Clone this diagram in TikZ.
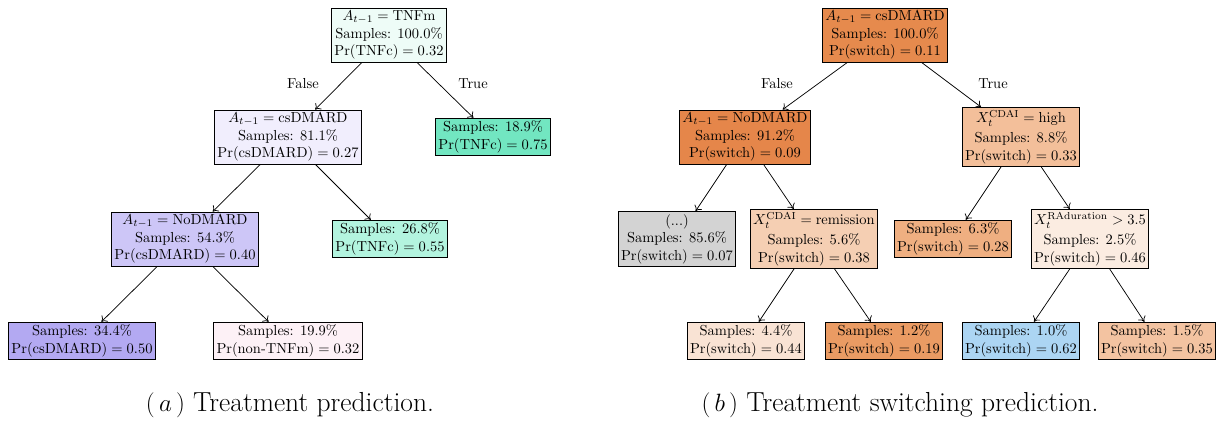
\documentclass[tikz,border=0pt]{standalone}
\usepackage{amsmath}
\usetikzlibrary{arrows.meta}

\definecolor{aroot}{HTML}{EEFCF7}
\definecolor{aone}{HTML}{F1EEFD}
\definecolor{atwo}{HTML}{72E6C1}
\definecolor{athree}{HTML}{CDC6F7}
\definecolor{afour}{HTML}{B3F4DF}
\definecolor{afive}{HTML}{B3A9F2}
\definecolor{asix}{HTML}{FDF1F6}

\definecolor{broot}{HTML}{E68A4D}
\definecolor{bone}{HTML}{E5864A}
\definecolor{btwo}{HTML}{F3BF9A}
\definecolor{bdots}{HTML}{D3D3D3}
\definecolor{bfour}{HTML}{F5CFB3}
\definecolor{bfive}{HTML}{EFAF81}
\definecolor{bsix}{HTML}{FBECE1}
\definecolor{bseven}{HTML}{F9E3D4}
\definecolor{beight}{HTML}{EA9B63}
\definecolor{bnine}{HTML}{ACD5F3}
\definecolor{bten}{HTML}{F3C3A1}

\begin{document}
\begin{tikzpicture}[x=0.69pt, y=-0.69pt]

\tikzset{
  box/.style={draw, line width=0.5pt, align=center, inner sep=2pt},
  boxedg/.style={-{To[length=3.5pt,width=6pt]}, line width=0.5pt},
}

\useasboundingbox (0,0) rectangle (1216,427);

% (a) treatment prediction
\node[box,fill=aroot,name=aroot] at (389,35) {$A_{t-1} = \mathrm{TNFm}$\\Samples: 100.0\%\\$\mathrm{Pr}(\mathrm{TNFc}) = 0.32$};
\node[name=afalse] at (303,84) {False};
\node[name=atrue] at (473,84) {True};
\node[box,fill=aone,name=a11] at (288,137) {$A_{t-1} = \mathrm{csDMARD}$\\Samples: 81.1\%\\$\mathrm{Pr}(\mathrm{csDMARD}) = 0.27$};
\node[box,fill=atwo,name=a12] at (493,137) {Samples: 18.9\%\\$\mathrm{Pr}(\mathrm{TNFc}) = 0.75$};
\node[box,fill=athree,name=a21] at (185,239) {$A_{t-1} = \mathrm{NoDMARD}$\\Samples: 54.3\%\\$\mathrm{Pr}(\mathrm{csDMARD}) = 0.40$};
\node[box,fill=afour,name=a22] at (390,239) {Samples: 26.8\%\\$\mathrm{Pr}(\mathrm{TNFc}) = 0.55$};
\node[box,fill=afive,name=a31] at (82,341) {Samples: 34.4\%\\$\mathrm{Pr}(\mathrm{csDMARD}) = 0.50$};
\node[box,fill=asix,name=a32] at (288,341) {Samples: 19.9\%\\$\mathrm{Pr}(\mathrm{non\text{-}TNFm}) = 0.32$};
\node[name=acap] at (290,405) {\fontsize{19}{23}\selectfont $(\,a\,)$ Treatment prediction.};

\draw[boxedg] (aroot) -- (a11);
\draw[boxedg] (aroot) -- (a12);
\draw[boxedg] (a11) -- (a21);
\draw[boxedg] (a11) -- (a22);
\draw[boxedg] (a21) -- (a31);
\draw[boxedg] (a21) -- (a32);

% (b) treatment switching prediction
\node[box,fill=broot,name=broot] at (885,35) {$A_{t-1} = \mathrm{csDMARD}$\\Samples: 100.0\%\\$\mathrm{Pr}(\mathrm{switch}) = 0.11$};
\node[name=bfalse] at (777,84) {False};
\node[name=btrue] at (993,84) {True};
\node[box,fill=bone,name=b11] at (745,137) {$A_{t-1} = \mathrm{NoDMARD}$\\Samples: 91.2\%\\$\mathrm{Pr}(\mathrm{switch}) = 0.09$};
\node[box,fill=btwo,name=b12] at (1021,137) {$X_t^{\mathrm{CDAI}} = \mathrm{high}$\\[2pt]Samples: 8.8\%\\$\mathrm{Pr}(\mathrm{switch}) = 0.33$};
\node[box,fill=bdots,name=b21] at (677,239) {(...)\\Samples: 85.6\%\\$\mathrm{Pr}(\mathrm{switch}) = 0.07$};
\node[box,fill=bfour,name=b22] at (814,239) {$X_t^{\mathrm{CDAI}} = \mathrm{remission}$\\[2pt]Samples: 5.6\%\\$\mathrm{Pr}(\mathrm{switch}) = 0.38$};
\node[box,fill=bfive,name=b23] at (953,239) {Samples: 6.3\%\\$\mathrm{Pr}(\mathrm{switch}) = 0.28$};
\node[box,fill=bsix,name=b24] at (1090,239) {$X_t^{\mathrm{RAduration}} > 3.5$\\[2pt]Samples: 2.5\%\\$\mathrm{Pr}(\mathrm{switch}) = 0.46$};
\node[box,fill=bseven,name=b31] at (746,341) {Samples: 4.4\%\\$\mathrm{Pr}(\mathrm{switch}) = 0.44$};
\node[box,fill=beight,name=b32] at (884,341) {Samples: 1.2\%\\$\mathrm{Pr}(\mathrm{switch}) = 0.19$};
\node[box,fill=bnine,name=b33] at (1021,341) {Samples: 1.0\%\\$\mathrm{Pr}(\mathrm{switch}) = 0.62$};
\node[box,fill=bten,name=b34] at (1157,341) {Samples: 1.5\%\\$\mathrm{Pr}(\mathrm{switch}) = 0.35$};
\node[name=bcap] at (900,405) {\fontsize{19}{23}\selectfont $(\,b\,)$ Treatment switching prediction.};

\draw[boxedg] (broot) -- (b11);
\draw[boxedg] (broot) -- (b12);
\draw[boxedg] (b11) -- (b21);
\draw[boxedg] (b11) -- (b22);
\draw[boxedg] (b12) -- (b23);
\draw[boxedg] (b12) -- (b24);
\draw[boxedg] (b22) -- (b31);
\draw[boxedg] (b22) -- (b32);
\draw[boxedg] (b24) -- (b33);
\draw[boxedg] (b24) -- (b34);

\end{tikzpicture}
\end{document}
